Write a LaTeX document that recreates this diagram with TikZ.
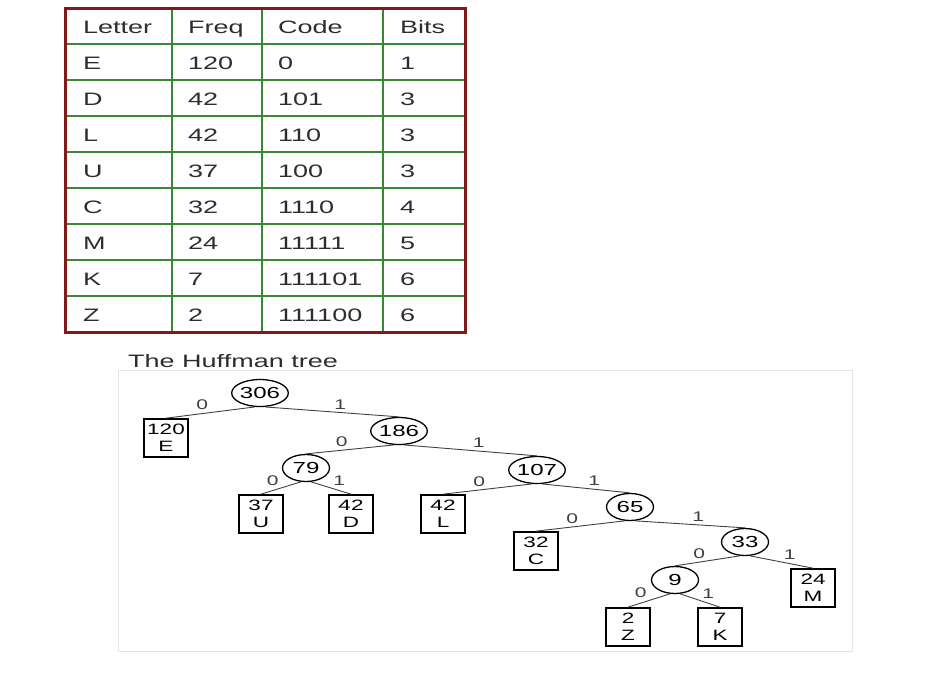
\documentclass[tikz,border=0pt]{standalone}
\usepackage{fontspec}
\setmainfont{Liberation Sans}[FakeStretch=1.5]
\usetikzlibrary{shapes.geometric}
\definecolor{gridgreen}{RGB}{55,135,55}
\definecolor{framered}{RGB}{130,25,25}
\definecolor{txtgray}{RGB}{45,45,45}
\tikzset{
  cell/.style={anchor=base west, text=txtgray, inner sep=0pt, font=\fontsize{18}{20}\selectfont},
  gridline/.style={gridgreen, line width=1.5pt},
  frame/.style={framered, line width=3pt},
  inner/.style={ellipse, draw, line width=1.3pt, minimum width=47pt, minimum height=27pt, inner sep=0pt, font=\fontsize{16}{18}\selectfont},
  leaf/.style={draw, line width=1.7pt, minimum width=44pt, minimum height=38pt, inner sep=0pt, align=center, font=\fontsize{15}{17}\selectfont},
  edge/.style={black!75, line width=0.9pt},
  bit0/.style={midway, above left, inner sep=2pt, font=\fontsize{14}{16}\selectfont},
  bit1/.style={midway, above right, inner sep=2pt, font=\fontsize{14}{16}\selectfont}
}
\begin{document}
\begin{tikzpicture}[x=1pt, y=-1pt]
    \useasboundingbox (0,0) rectangle (925,681);
    \foreach \y in {44,80,...,296} \draw[gridline] (65,\y) -- (465,\y);
    \foreach \x in {172,262,383} \draw[gridline] (\x,8) -- (\x,332);
    \draw[frame] (65,8) rectangle (465,332);
    \foreach \ltr/\frq/\cod/\bts [count=\r] in {Letter/Freq/Code/Bits, E/120/0/1, D/42/101/3, L/42/110/3, U/37/100/3, C/32/1110/4, M/24/11111/5, K/7/111101/6, Z/2/111100/6} {
        \node[cell] (ltr\r) at (83, {33+36*(\r-1)}) {\ltr};
        \node[cell] (frq\r) at (188, {33+36*(\r-1)}) {\frq};
        \node[cell] (cod\r) at (278, {33+36*(\r-1)}) {\cod};
        \node[cell] (bts\r) at (400, {33+36*(\r-1)}) {\bts};
    }
    \node[cell] (title) at (128,367) {The Huffman tree};
    \draw[gray!20] (118,370) rectangle (852,651);
    \node[inner] (n306) at (260,393) {306};
    \node[leaf] (e) at (166,438) {120\\E};
    \node[inner] (n186) at (399,431) {186};
    \node[inner] (n79) at (306,468) {79};
    \node[inner] (n107) at (537,470) {107};
    \node[leaf] (u) at (261,514) {37\\U};
    \node[leaf] (d) at (351,514) {42\\D};
    \node[leaf] (l) at (443,514) {42\\L};
    \node[inner] (n65) at (630,507) {65};
    \node[leaf] (c) at (536,551) {32\\C};
    \node[inner] (n33) at (745,542) {33};
    \node[inner] (n9) at (675,580) {9};
    \node[leaf] (m) at (813,588) {24\\M};
    \node[leaf] (z) at (628,627) {2\\Z};
    \node[leaf] (k) at (720,627) {7\\K};
    \draw[edge] (n306.250) -- node[bit0] {0} (e.north);
    \draw[edge] (n306.290) -- node[bit1] {1} (n186.north);
    \draw[edge] (n186.250) -- node[bit0] {0} (n79.north);
    \draw[edge] (n186.290) -- node[bit1] {1} (n107.north);
    \draw[edge] (n79.250) -- node[bit0] {0} (u.north);
    \draw[edge] (n79.290) -- node[bit1] {1} (d.north);
    \draw[edge] (n107.250) -- node[bit0] {0} (l.north);
    \draw[edge] (n107.290) -- node[bit1] {1} (n65.north);
    \draw[edge] (n65.250) -- node[bit0] {0} (c.north);
    \draw[edge] (n65.290) -- node[bit1] {1} (n33.north);
    \draw[edge] (n33.250) -- node[bit0] {0} (n9.north);
    \draw[edge] (n33.290) -- node[bit1] {1} (m.north);
    \draw[edge] (n9.250) -- node[bit0] {0} (z.north);
    \draw[edge] (n9.290) -- node[bit1] {1} (k.north);
\end{tikzpicture}
\end{document}
